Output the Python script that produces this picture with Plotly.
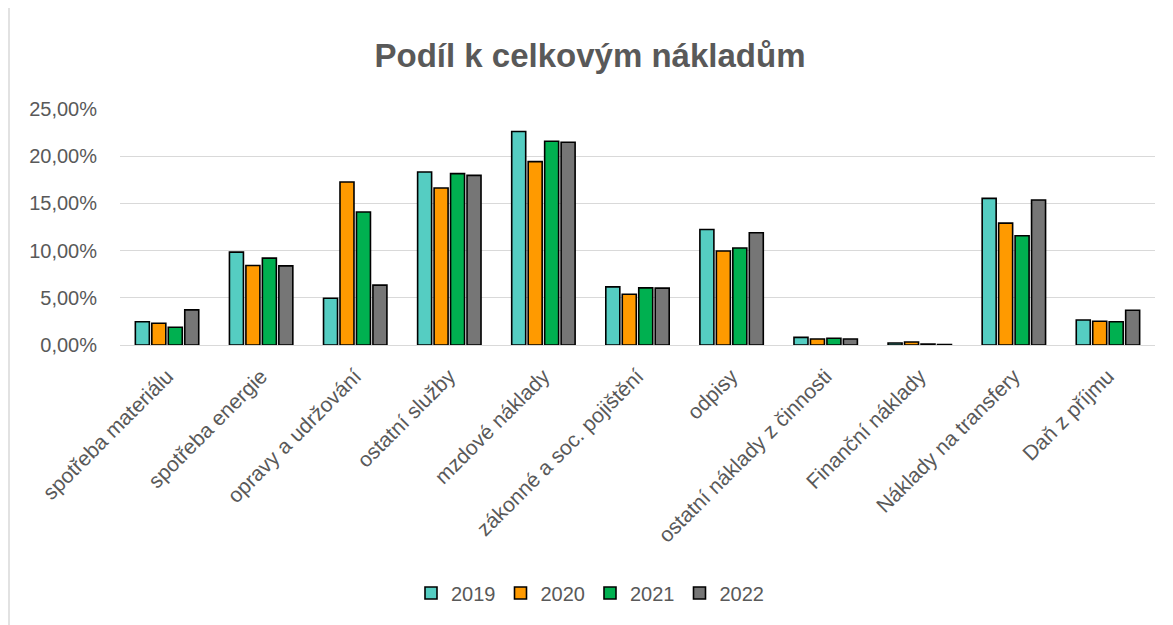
import plotly.graph_objects as go

categories = ["spotřeba materiálu", "spotřeba energie", "opravy a udržování", "ostatní služby",
              "mzdové náklady", "zákonné a soc. pojištění", "odpisy", "ostatní náklady z činnosti",
              "Finanční náklady", "Náklady na transfery", "Daň z příjmu"]
years = ["2019", "2020", "2021", "2022"]
v2019 = [2.47, 9.84, 4.96, 18.33, 22.61, 6.16, 12.24, 0.81, 0.21, 15.53, 2.65]
v2020 = [2.30, 8.42, 17.27, 16.63, 19.43, 5.38, 9.95, 0.64, 0.32, 12.91, 2.51]
v2021 = [1.88, 9.20, 14.09, 18.15, 21.58, 6.05, 10.27, 0.71, 0.10, 11.57, 2.47]
v2022 = [3.72, 8.38, 6.34, 17.97, 21.48, 6.02, 11.89, 0.64, 0.05, 15.36, 3.68]
series = [v2019, v2020, v2021, v2022]
colors = ["#55CDC2", "#FF9A00", "#00B050", "#767676"]

W, H = 1173, 625
OFF = 8  # page body margin
L, R, T, B = 120 - OFF, 18 + OFF, 109 - OFF, 280 + OFF

fig = go.Figure()
for y, vals, c in zip(years, series, colors):
    fig.add_trace(go.Bar(name=y, x=categories, y=vals, marker=dict(color=c, line=dict(color="black", width=1.6))))

pw = W - L - R
ph = H - T - B
fig.update_layout(
    width=W, height=H,
    margin=dict(l=L, r=R, t=T, b=B),
    paper_bgcolor="white", plot_bgcolor="white",
    separators=", ",
    barmode="group", bargap=0.3, bargroupgap=0.15,
    font=dict(family="Liberation Sans, Arial", color="#595959", size=17),
    title=dict(text="<b>Podíl k celkovým nákladům</b>", x=(590 - OFF) / W, xanchor="center",
               y=1 - (55 - OFF) / H, yanchor="middle",
               font=dict(size=33, color="#595959")),
    legend=dict(orientation="h", x=(590 - OFF - L) / pw, xanchor="center", y=(345 - 593) / ph, yanchor="middle",
                font=dict(size=20, color="#595959"), itemwidth=30, traceorder="normal"),
    xaxis=dict(tickangle=-45, showline=False, ticks="", tickfont=dict(size=21, color="#595959"),
               ticklabelstandoff=14),
    yaxis=dict(range=[0, 25], dtick=5, tickformat=".2f", ticksuffix="%", gridcolor="#D9D9D9", gridwidth=1.3,
               zeroline=True, zerolinecolor="#D9D9D9", zerolinewidth=1.3,
               tickfont=dict(size=20, color="#595959"), ticklabelstandoff=22),
    shapes=[dict(type="rect", xref="paper", yref="paper",
                 x0=(9 - OFF - L) / pw, x1=(1172 - L) / pw, y0=(345 - 640) / ph, y1=(345 - 1) / ph,
                 line=dict(color="#D9D9D9", width=1.5), fillcolor="rgba(0,0,0,0)", layer="below")],
)
fig.write_html("out.html")
